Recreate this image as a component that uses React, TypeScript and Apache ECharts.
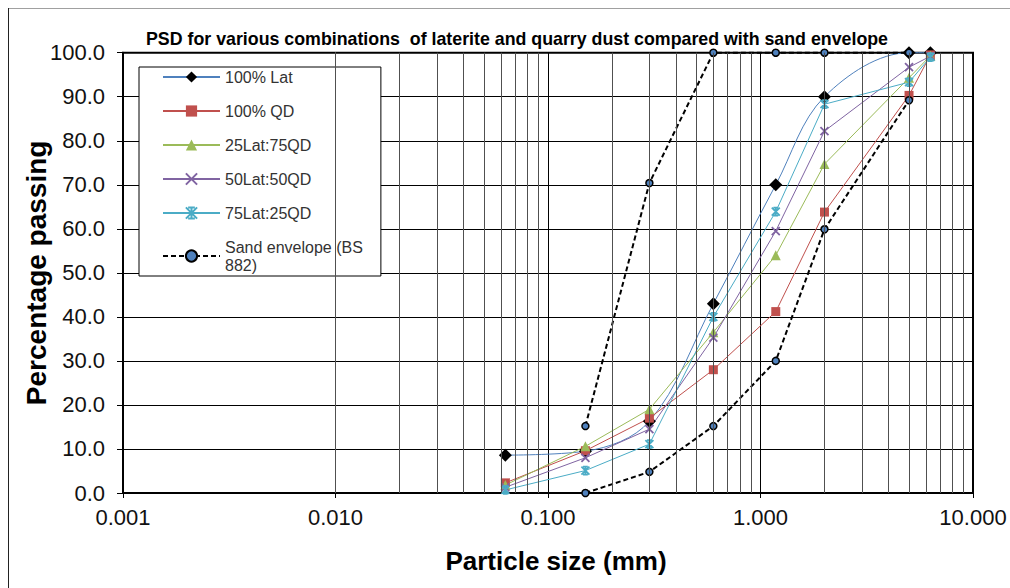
import React, { useEffect, useRef } from "react";
import * as echarts from "echarts";

const sizes = [0.063, 0.15, 0.3, 0.6, 1.18, 2, 5, 6.3];
const lat100 = [8.6, 9.5, 16.3, 43.0, 70.0, 90.0, 100, 100];
const qd100 = [2.3, 9.6, 17.0, 28.0, 41.2, 63.8, 90.3, 99.5];
const lat25qd75 = [1.8, 10.6, 19.0, 36.5, 54.0, 74.7, 94.3, 99.3];
const lat50qd50 = [1.3, 8.0, 14.5, 35.3, 59.5, 82.2, 96.7, 99.2];
const lat75qd25 = [0.7, 5.1, 11.1, 40.0, 63.9, 88.3, 93.3, 99.0];

const sandSizes = [0.15, 0.3, 0.6, 1.18, 2, 5];
const sandUpper = [15.2, 70.4, 100, 100, 100, 100];
const sandLower = [0, 4.8, 15.2, 30.0, 59.9, 89.2];

const yTicks = [0, 10, 20, 30, 40, 50, 60, 70, 80, 90, 100];
const decades = [0.001, 0.01, 0.1, 1];
const minorMultipliers = [2, 3, 4, 5, 6, 7, 8, 9];

const SAND = "Sand envelope (BS 882)";
const FONT = "Liberation Sans, Arial, Helvetica, sans-serif";

const pairs = (xs: number[], ys: number[]) => xs.map((x, i) => [x, ys[i]]);

export default function App() {
  const ref = useRef<HTMLDivElement>(null);
  useEffect(() => {
    if (!ref.current) return;
    const chart = echarts.init(ref.current, undefined, { renderer: "svg" });
    const minorLines: any[] = [];
    decades.forEach((d) =>
      minorMultipliers.forEach((m) => minorLines.push({ xAxis: +(d * m).toPrecision(3) }))
    );
    const base = (name: string, ys: number[], color: string, extra: any) => ({
      name,
      type: "line",
      data: pairs(sizes, ys),
      clip: false,
      lineStyle: { color, width: 1 },
      emphasis: { disabled: true },
      ...extra,
    });
    const option: any = {
      animation: false,
      backgroundColor: "#ffffff",
      textStyle: { fontFamily: FONT },
      title: {
        text: "PSD for various combinations  of laterite and quarry dust compared with sand envelope",
        left: 512,
        textAlign: "center",
        top: 25,
        textStyle: { fontFamily: FONT, fontSize: 17.8, fontWeight: "bold", color: "#000" },
      },
      grid: {
        left: 123,
        right: 37,
        top: 52.7,
        bottom: 95,
        show: true,
        borderColor: "#000",
        borderWidth: 2,
        backgroundColor: "transparent",
      },
      legend: {
        orient: "vertical",
        left: 139,
        top: 67,
        padding: [1, 18, 2, 23],
        itemWidth: 57,
        itemHeight: 14,
        itemGap: 16,
        backgroundColor: "#fff",
        borderColor: "#000",
        borderWidth: 1,
        borderRadius: 0,
        selectedMode: false,
        data: ["100% Lat", "100% QD", "25Lat:75QD", "50Lat:50QD", "75Lat:25QD", SAND],
        formatter: (n: string) => (n === SAND ? "Sand envelope (BS\n882)" : n),
        textStyle: { fontFamily: FONT, fontSize: 16, color: "#333", lineHeight: 18 },
      },
      xAxis: {
        type: "log",
        logBase: 10,
        min: 0.001,
        max: 10,
        axisLine: { show: true, lineStyle: { color: "#000", width: 2 } },
        axisTick: { show: true, length: 5, lineStyle: { color: "#000" } },
        axisLabel: {
          fontSize: 22,
          color: "#111",
          margin: 13,
          formatter: (v: number) => v.toFixed(3),
        },
        splitLine: { show: true, lineStyle: { color: "#000", width: 1 } },
        name: "Particle size (mm)",
        nameLocation: "middle",
        nameGap: 55,
        nameMoveOverlap: false,
        nameTextStyle: {
          fontSize: 26,
          fontWeight: "bold",
          color: "#000",
          fontFamily: FONT,
          padding: [0, 0, 0, 16],
        },
      },
      yAxis: {
        type: "value",
        min: 0,
        max: 100,
        interval: 10,
        axisLine: { show: true, lineStyle: { color: "#000", width: 2 } },
        axisTick: { show: true, length: 6, lineStyle: { color: "#000" } },
        axisLabel: {
          fontSize: 22,
          color: "#111",
          margin: 18,
          formatter: (v: number) => (yTicks.includes(v) ? v.toFixed(1) : ""),
        },
        splitLine: { show: true, lineStyle: { color: "#000", width: 1 } },
        name: "Percentage passing",
        nameLocation: "middle",
        nameGap: 73,
        nameMoveOverlap: false,
        nameTextStyle: { fontSize: 28, fontWeight: "bold", color: "#000", fontFamily: FONT },
      },
      graphic: [
        { type: "line", shape: { x1: 8, y1: 8.5, x2: 1010, y2: 8.5 }, style: { stroke: "#a0a0a0", lineWidth: 1 } },
        { type: "line", shape: { x1: 8.5, y1: 8, x2: 8.5, y2: 588 }, style: { stroke: "#222", lineWidth: 1 } },
      ],
      series: [
        {
          name: "minor",
          type: "line",
          data: [],
          z: 1,
          silent: true,
          markLine: {
            silent: true,
            symbol: ["none", "none"],
            label: { show: false },
            emphasis: { disabled: true },
            lineStyle: { type: "solid", color: "#505050", width: 1 },
            data: minorLines,
          },
        },
        base("100% Lat", lat100, "#4F81BD", {
          smooth: 0.35,
          symbol: "diamond",
          symbolSize: 13,
          itemStyle: { color: "#000" },
        }),
        base("100% QD", qd100, "#C0504D", {
          symbol: "rect",
          symbolSize: 9,
          itemStyle: { color: "#C0504D" },
        }),
        base("25Lat:75QD", lat25qd75, "#9BBB59", {
          symbol: "triangle",
          symbolSize: 10,
          itemStyle: { color: "#9BBB59" },
        }),
        base("50Lat:50QD", lat50qd50, "#8064A2", {
          symbol: "path://M0,0L10,10M10,0L0,10",
          symbolSize: 8,
          itemStyle: { color: "#8064A2", borderColor: "#8064A2", borderWidth: 1.8 },
        }),
        base("75Lat:25QD", lat75qd25, "#4BACC6", {
          symbol: "path://M0,0L10,10M10,0L0,10M5,0L5,10M2,0L8,0M2,10L8,10",
          symbolSize: 8,
          itemStyle: { color: "#4BACC6", borderColor: "#4BACC6", borderWidth: 1.8 },
        }),
        {
          name: SAND,
          type: "line",
          data: pairs(sandSizes, sandUpper),
          clip: false,
          symbol: "circle",
          symbolSize: 7,
          itemStyle: { color: "#4F81BD", borderColor: "#000", borderWidth: 1.5 },
          lineStyle: { color: "#000", width: 2, type: [5, 3] },
          emphasis: { disabled: true },
        },
        {
          name: SAND,
          type: "line",
          data: pairs(sandSizes, sandLower),
          clip: false,
          symbol: "circle",
          symbolSize: 7,
          itemStyle: { color: "#4F81BD", borderColor: "#000", borderWidth: 1.5 },
          lineStyle: { color: "#000", width: 2, type: [5, 3] },
          emphasis: { disabled: true },
        },
      ],
    };
    chart.setOption(option);
    return () => chart.dispose();
  }, []);
  return (
    <div
      ref={ref}
      style={{ position: "fixed", left: 0, top: 0, width: 1010, height: 588, background: "#fff" }}
    />
  );
}
